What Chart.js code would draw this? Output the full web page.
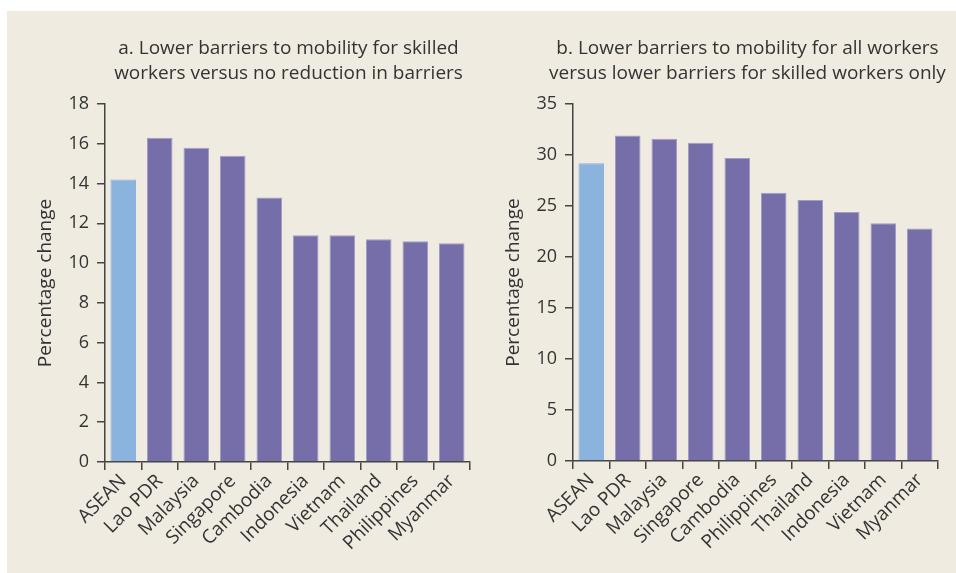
<!DOCTYPE html>
<html><head><meta charset="utf-8">
<script src="https://cdn.jsdelivr.net/npm/chart.js@4"></script>
<style>
html,body{margin:0;padding:0;background:#fff;}
#bg{position:absolute;left:7px;top:11px;width:949px;height:562px;background:#efebe1;}
.box{position:absolute;top:11px;height:562px;}
#boxA{left:7px;width:474px;}
#boxB{left:481px;width:475px;}
</style></head>
<body>
<div id="bg"></div>
<div class="box" id="boxA"><canvas id="ca"></canvas></div>
<div class="box" id="boxB"><canvas id="cb"></canvas></div>
<script>
const titleA = ["a. Lower barriers to mobility for skilled", "workers versus no reduction in barriers"];
const titleB = ["b. Lower barriers to mobility for all workers", "versus lower barriers for skilled workers only"];
const categoriesA = ["ASEAN","Lao PDR","Malaysia","Singapore","Cambodia","Indonesia","Vietnam","Thailand","Philippines","Myanmar"];
const valuesA = [14.2, 16.3, 15.8, 15.4, 13.3, 11.4, 11.4, 11.2, 11.1, 11.0];
const categoriesB = ["ASEAN","Lao PDR","Malaysia","Singapore","Cambodia","Philippines","Thailand","Indonesia","Vietnam","Myanmar"];
const valuesB = [29.2, 31.9, 31.6, 31.2, 29.7, 26.3, 25.6, 24.4, 23.3, 22.8];
const yTitle = "Percentage change";

const FONT = "'Open Sans', Lato, sans-serif";
const TXT = "#333333";

const panelTitle = {
  id: 'panelTitle',
  afterDraw(chart, args, opts) {
    const ctx = chart.ctx, ca = chart.chartArea;
    ctx.save();
    ctx.fillStyle = TXT;
    ctx.font = "19px " + FONT;
    ctx.textAlign = "center";
    ctx.textBaseline = "middle";
    const cx = (ca.left + ca.right) / 2 + opts.dx;
    opts.lines.forEach((l, i) => ctx.fillText(l, cx, opts.y0 + i * opts.lh));
    ctx.restore();
  }
};

function make(id, cats, vals, ymax, step, title, pad, yW, xH, dx) {
  const colors = cats.map((c, i) => i === 0 ? "#8ab3de" : "#756ea9");
  const borders = cats.map((c, i) => i === 0 ? "#8ab3de" : "#a29dc6");
  new Chart(document.getElementById(id), {
    type: 'bar',
    data: { labels: cats, datasets: [{ data: vals, backgroundColor: colors, borderColor: borders, borderWidth: {top:1,left:1,right:1,bottom:0}, barPercentage: 0.7, categoryPercentage: 1.0 }] },
    plugins: [panelTitle],
    options: {
      responsive: true, maintainAspectRatio: false, animation: false,
      layout: { padding: pad },
      plugins: { legend: { display: false }, tooltip: { enabled: false }, title: { display: false },
        panelTitle: { lines: title, y0: 38, lh: 25, dx: dx } },
      scales: {
        x: {
          grid: { display: true, drawOnChartArea: false, drawTicks: true, tickLength: 8, color: "#444", lineWidth: 1.5, offset: true },
          border: { display: true, color: "#444", width: 1.5 },
          ticks: { color: TXT, font: { family: FONT, size: 19 }, minRotation: 45, maxRotation: 45, autoSkip: false, padding: 0 },
          afterFit(s) { s.height = xH; }
        },
        y: {
          min: 0, max: ymax,
          grid: { display: true, drawOnChartArea: false, drawTicks: true, tickLength: 8, color: "#444", lineWidth: 1.5 },
          border: { display: true, color: "#444", width: 1.5 },
          ticks: { stepSize: step, color: TXT, font: { family: FONT, size: 18 }, padding: 8 },
          title: { display: true, text: yTitle, color: TXT, font: { family: FONT, size: 19 }, padding: { top: 0, bottom: 0 } },
          afterFit(s) { s.width = yW; }
        }
      }
    }
  });
}

make('ca', categoriesA, valuesA, 18, 2, titleA, { left: 27, right: 11, top: 93, bottom: 0 }, 71, 111, 1);
make('cb', categoriesB, valuesB, 35, 5, titleB, { left: 21, right: 18, top: 93, bottom: 0 }, 71, 112, -8);
</script>
</body></html>
